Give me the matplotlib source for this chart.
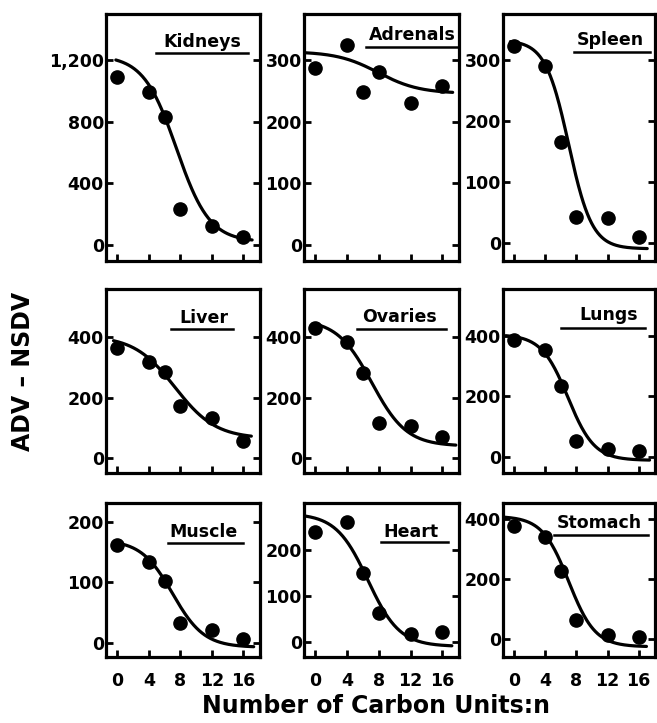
import numpy as np
import matplotlib
matplotlib.use("Agg")
import matplotlib.pyplot as plt

plt.rcParams['font.family'] = ['DejaVu Sans']
plt.rcParams['font.weight'] = 'bold'

# ---- data ----
organs = ["Kidneys", "Adrenals", "Spleen",
          "Liver", "Ovaries", "Lungs",
          "Muscle", "Heart", "Stomach"]
n_units = [0, 4, 6, 8, 12, 16]

kidneys = [1088, 990, 828, 231, 125, 54]
adrenals = [287, 325, 248, 281, 230, 258]
spleen = [322, 289, 165, 42, 40, 9]
liver = [364, 319, 286, 173, 134, 58]
ovaries = [432, 385, 283, 118, 107, 69]
lungs = [388, 355, 234, 53, 24, 20]
muscle = [162, 133, 102, 32, 20, 6]
heart = [240, 262, 151, 62, 17, 22]
stomach = [378, 340, 229, 64, 14, 9]
values = [kidneys, adrenals, spleen, liver, ovaries, lungs, muscle, heart, stomach]

# fitted sigmoid curve parameters (top, bottom, midpoint, slope)
fit_top = [1230, 314, 332, 405, 460, 405, 170, 280, 410]
fit_bottom = [20, 246, -10, 65, 40, -12, -8, -10, -25]
fit_mid = [7.5, 7.9, 7.0, 7.3, 7.1, 6.9, 7.0, 6.6, 7.0]
fit_slope = [2.1, 2.6, 1.5, 2.6, 2.2, 1.7, 2.0, 2.0, 1.7]
fit_start = [-0.2, -1.4, -0.5, -0.5, -0.3, -1.1, 0.1, -1.2, -1.2]
fit_end = [17.1, 17.3, 17.1, 17.0, 17.7, 17.4, 17.3, 17.2, 17.0]

yticks = [[0, 400, 800, 1200], [0, 100, 200, 300], [0, 100, 200, 300],
          [0, 200, 400], [0, 200, 400], [0, 200, 400],
          [0, 100, 200], [0, 100, 200], [0, 200, 400]]
xticks = [0, 4, 8, 12, 16]

# ---- layout (pixels) ----
W, H = 657, 723
col_lr = [(106, 260), (304, 459), (503, 655)]
row_tb = [(14, 261), (289, 473), (503, 657)]
ylims = [(-104, 1498), (-26, 375), (-30, 375),
         (-49, 560), (-49, 560), (-54, 556),
         (-24, 231), (-33, 303), (-59, 454)]
# title text center (x, y) and underline (x0, x1, y) in axes fraction
title_pos = [(0.627, 0.887), (0.697, 0.915), (0.709, 0.895),
             (0.634, 0.842), (0.619, 0.849), (0.695, 0.859),
             (0.636, 0.814), (0.690, 0.814), (0.634, 0.868)]
uline_pos = [(0.327, 0.922, 0.842), (0.400, 0.987, 0.866), (0.470, 0.967, 0.846),
             (0.425, 0.824, 0.783), (0.342, 0.916, 0.783), (0.382, 0.934, 0.788),
             (0.400, 0.888, 0.742), (0.497, 0.927, 0.745), (0.333, 0.954, 0.792)]

fig = plt.figure(figsize=(W / 100, H / 100), dpi=100)

lw = 2.3
for i, organ in enumerate(organs):
    r, c = divmod(i, 3)
    l, rr = col_lr[c]
    t, b = row_tb[r]
    ax = fig.add_axes([l / W, 1 - b / H, (rr - l) / W, (b - t) / H])
    ax.set_xlim(-1.45, 18.1)
    ax.set_ylim(*ylims[i])

    xs = np.linspace(fit_start[i], fit_end[i], 200)
    ys = fit_bottom[i] + (fit_top[i] - fit_bottom[i]) / (1 + np.exp((xs - fit_mid[i]) / fit_slope[i]))
    ax.plot(xs, ys, color='black', lw=lw, solid_capstyle='round', zorder=2)
    ax.plot(n_units, values[i], 'o', color='black', markersize=9.5, zorder=3)

    for sp in ax.spines.values():
        sp.set_linewidth(lw)
    ax.set_xticks(xticks)
    ax.set_yticks(yticks[i])
    if i == 0:
        ax.set_yticklabels(["0", "400", "800", "1,200"])
    ax.tick_params(axis='both', direction='in', length=5, width=2,
                   labelsize=12.5, top=False, right=True)
    ax.tick_params(axis='y', pad=1.5)
    ax.tick_params(axis='x', pad=11)
    if r < 2:
        ax.set_xticklabels([])
    for lab in ax.get_xticklabels() + ax.get_yticklabels():
        lab.set_fontweight('bold')

    tx, ty = title_pos[i]
    ax.text(tx, ty, organ, transform=ax.transAxes, ha='center', va='center',
            fontsize=12.5, fontweight='bold')
    ux0, ux1, uy = uline_pos[i]
    ax.plot([ux0, ux1], [uy, uy], transform=ax.transAxes, color='black',
            lw=1.8, clip_on=False)

fig.text(23 / W, 1 - 371 / H, "ADV \u2013 NSDV", rotation=90, ha='center', va='center',
         fontsize=17, fontweight='bold')
fig.text(376 / W, 1 - 706 / H, "Number of Carbon Units:n", ha='center', va='center',
         fontsize=17, fontweight='bold')

fig.savefig("out.png", dpi=100)
